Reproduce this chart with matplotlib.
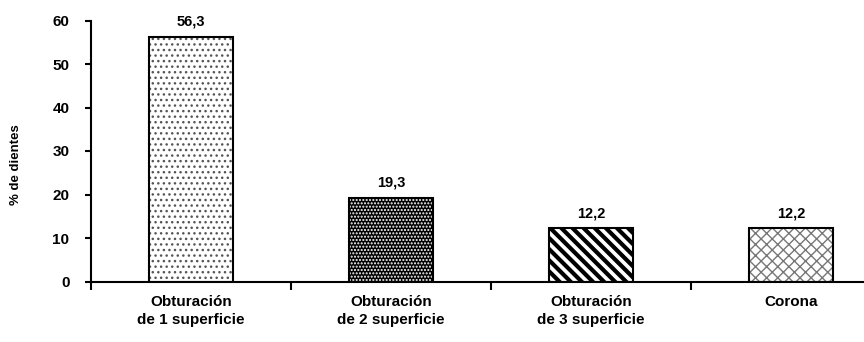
import matplotlib
matplotlib.use("Agg")
import matplotlib.pyplot as plt

plt.rcParams['font.family'] = ['Liberation Sans', 'DejaVu Sans']
plt.rcParams['font.weight'] = 'bold'

# datos
categorias = ['Obturación\nde 1 superficie', 'Obturación\nde 2 superficie',
              'Obturación\nde 3 superficie', 'Corona']
valores = [56.3, 19.3, 12.2, 12.2]

# relleno de cada barra: (fondo, trama, color de trama, grosor de trama)
rellenos = [('white', '...', '#555555', 1.0),
            ('black', '.....', 'white', 1.0),
            ('white', '\\\\\\', 'black', 3.0),
            ('white', 'xxx', '#777777', 1.0)]

fig = plt.figure(figsize=(8.64, 3.42), dpi=100)
ax = fig.add_axes([91 / 864, 1 - 281.5 / 342, 800 / 864, 261 / 342])

x = range(len(valores))
for i, v in enumerate(valores):
    fondo, trama, ctrama, grosor = rellenos[i]
    b = ax.bar(i, v, width=0.42, color=fondo, edgecolor=ctrama, hatch=trama, linewidth=0, zorder=2)
    if hasattr(b[0], 'set_hatch_linewidth'):
        b[0].set_hatch_linewidth(grosor)
    ax.bar(i, v, width=0.42, facecolor='none', edgecolor='black', linewidth=1.5, zorder=3)
    ax.text(i, v + 1.8, f"{v:.1f}".replace('.', ','), ha='center', va='bottom',
            fontsize=10.5, fontweight='bold')

ax.set_xlim(-0.5, 3.5)
ax.set_ylim(0, 60)
ax.set_yticks(range(0, 61, 10))
ax.tick_params(axis='y', length=4.5, width=1.5, labelsize=11, pad=11)

# ticks del eje x en los limites entre categorias, etiquetas al centro
ax.set_xticks([-0.5, 0.5, 1.5, 2.5, 3.5])
ax.set_xticklabels([])
ax.tick_params(axis='x', length=6, width=1.5)
ax.set_xticks(list(x), minor=True)
ax.set_xticklabels(categorias, minor=True, fontsize=11, fontweight='bold', linespacing=1.3)
ax.tick_params(axis='x', which='minor', length=0, pad=10)

for s in ['top', 'right']:
    ax.spines[s].set_visible(False)
for s in ['left', 'bottom']:
    ax.spines[s].set_linewidth(1.5)

ax.set_ylabel('% de dientes', fontsize=9.5, fontweight='bold', va='center')
ax.yaxis.set_label_coords(-0.094, 0.446)

fig.savefig('out.png', dpi=100)
